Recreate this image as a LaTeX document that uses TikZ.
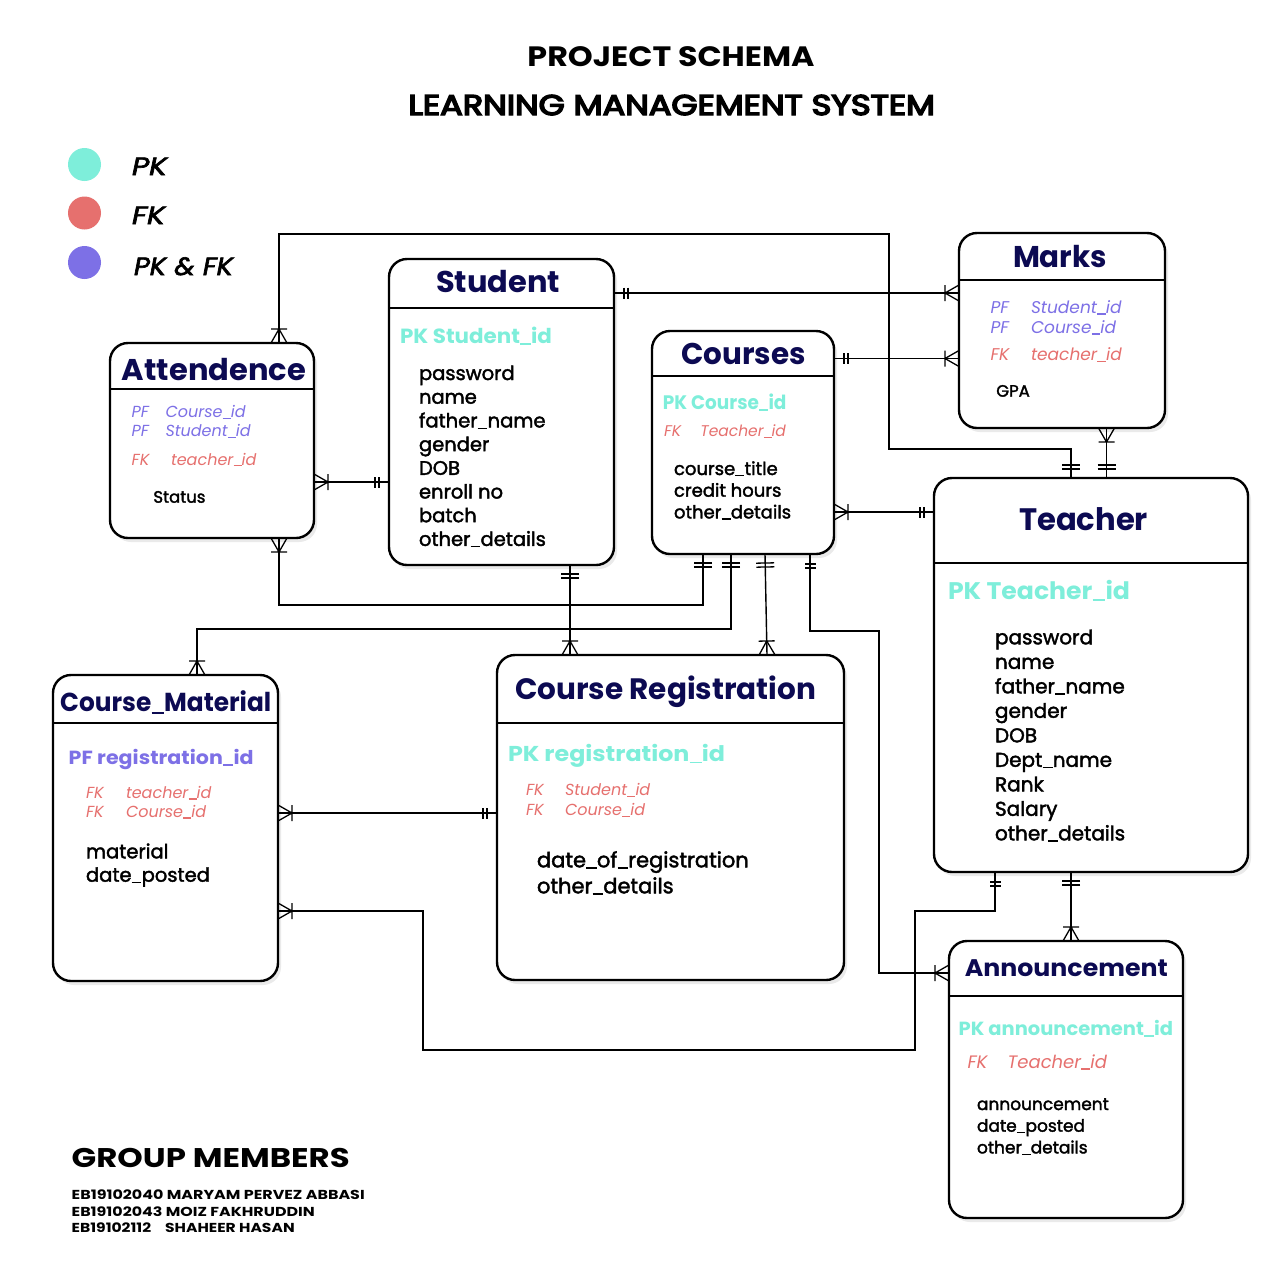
\documentclass[tikz,border=0pt]{standalone}
\usepackage{fontspec}
\setmainfont{Poppins}[UprightFeatures={FakeBold=2}]
\newfontfamily\popmed{Poppins}[FakeBold=5]
\newfontfamily\popit{Poppins Italic}[FakeBold=2.5]
\usepackage{graphicx}
\usetikzlibrary{shadows,arrows.meta}

\definecolor{navy}{RGB}{12,10,82}
\definecolor{pkc}{RGB}{126,238,218}
\definecolor{fkc}{RGB}{230,112,110}
\definecolor{pfc}{RGB}{125,112,230}

\newcommand\fw[2]{\resizebox{#1}{\height}{#2}}
\newcommand\fs[1]{\fontsize{#1}{#1}\selectfont}
\newcommand\us{\kern0.01em\rule[-0.08em]{0.5em}{0.075em}\kern0.01em}

\pgfdeclarearrow{
  name=ERone,
  setup code={
    \pgfarrowssettipend{0pt}
    \pgfarrowssetlineend{0pt}
    \pgfarrowssetbackend{-14pt}
    \pgfarrowshullpoint{0pt}{6pt}
    \pgfarrowshullpoint{0pt}{-6pt}
    \pgfarrowshullpoint{-14pt}{6pt}
    \pgfarrowshullpoint{-14pt}{-6pt}
  },
  drawing code={
    \pgfsetlinewidth{1.3pt}
    \pgfsetdash{}{0pt}
    \pgfsetbuttcap
    \pgfpathmoveto{\pgfqpoint{-10pt}{-5.5pt}}
    \pgfpathlineto{\pgfqpoint{-10pt}{5.5pt}}
    \pgfpathmoveto{\pgfqpoint{-14pt}{-5.5pt}}
    \pgfpathlineto{\pgfqpoint{-14pt}{5.5pt}}
    \pgfusepathqstroke
  }
}
\pgfdeclarearrow{
  name=ERoneW,
  setup code={
    \pgfarrowssettipend{0pt}
    \pgfarrowssetlineend{0pt}
    \pgfarrowssetbackend{-14pt}
    \pgfarrowshullpoint{0pt}{9pt}
    \pgfarrowshullpoint{0pt}{-9pt}
    \pgfarrowshullpoint{-14pt}{9pt}
    \pgfarrowshullpoint{-14pt}{-9pt}
  },
  drawing code={
    \pgfsetlinewidth{1.3pt}
    \pgfsetdash{}{0pt}
    \pgfsetbuttcap
    \pgfpathmoveto{\pgfqpoint{-9pt}{-9pt}}
    \pgfpathlineto{\pgfqpoint{-9pt}{9pt}}
    \pgfpathmoveto{\pgfqpoint{-13pt}{-9pt}}
    \pgfpathlineto{\pgfqpoint{-13pt}{9pt}}
    \pgfusepathqstroke
  }
}
\pgfdeclarearrow{
  name=ERmany,
  setup code={
    \pgfarrowssettipend{0pt}
    \pgfarrowssetlineend{0pt}
    \pgfarrowssetbackend{-15pt}
    \pgfarrowshullpoint{0pt}{8pt}
    \pgfarrowshullpoint{0pt}{-8pt}
    \pgfarrowshullpoint{-15pt}{8pt}
    \pgfarrowshullpoint{-15pt}{-8pt}
  },
  drawing code={
    \pgfsetlinewidth{1.3pt}
    \pgfsetdash{}{0pt}
    \pgfsetbuttcap
    \pgfsetmiterjoin
    \pgfpathmoveto{\pgfqpoint{-14pt}{-8pt}}
    \pgfpathlineto{\pgfqpoint{-14pt}{8pt}}
    \pgfpathmoveto{\pgfqpoint{0pt}{8pt}}
    \pgfpathlineto{\pgfqpoint{-14pt}{0pt}}
    \pgfpathlineto{\pgfqpoint{0pt}{-8pt}}
    \pgfusepathqstroke
  }
}

\tikzset{
  tbl/.style={draw=black, line width=2.4pt, rounded corners=18pt, fill=white,
    outer sep=0pt, inner sep=0pt,
    drop shadow={opacity=0.16, shadow xshift=3pt, shadow yshift=-4pt}},
  sepline/.style={line width=1.6pt},
  conn/.style={line width=1.4pt},
  txt/.style={anchor=base west, inner sep=0pt, outer sep=0pt},
  ttl/.style={anchor=base, inner sep=0pt, outer sep=0pt, text=navy},
  pk/.style={txt, text=pkc},
  fk/.style={txt, text=fkc},
  pf/.style={txt, text=pfc},
}

\begin{document}
\begin{tikzpicture}[x=1pt,y=-1pt]
\useasboundingbox (0,0) rectangle (1280,1275);
\fill[white] (0,0) rectangle (1280,1275);

% ---------- header ----------
\node[anchor=base, inner sep=0pt, font=\bfseries\fs{28}] (h1) at (671,66.7) {\fw{287pt}{PROJECT SCHEMA}};
\node[anchor=base, inner sep=0pt, font=\popmed\fs{28.5}] (h2) at (671.7,115) {\fw{526.5pt}{LEARNING MANAGEMENT SYSTEM}};

% ---------- legend ----------
\node[circle, fill=pkc, minimum size=33pt, inner sep=0pt] (lg1) at (84.5,164.5) {};
\node[circle, fill=fkc, minimum size=33pt, inner sep=0pt] (lg2) at (84.5,213) {};
\node[circle, fill=pfc, minimum size=33pt, inner sep=0pt] (lg3) at (84.5,262.5) {};
\node[txt, font=\popit\fs{25}] (lg1t) at (132,175) {\fw{35pt}{PK}};
\node[txt, font=\popit\fs{25}] (lg2t) at (132,224) {\fw{33pt}{FK}};
\node[txt, font=\popit\fs{25}] (lg3t) at (134,275) {\fw{99pt}{PK \& FK}};

% ---------- tables ----------
\node[tbl, minimum width=204pt, minimum height=195pt] (att) at (212,440.5) {};
\node[tbl, minimum width=225pt, minimum height=306pt] (stu) at (501.5,412) {};
\node[tbl, minimum width=182pt, minimum height=223pt] (crs) at (743,442.5) {};
\node[tbl, minimum width=206pt, minimum height=195pt] (mrk) at (1062,330.5) {};
\node[tbl, minimum width=314pt, minimum height=394pt] (tch) at (1091,675) {};
\node[tbl, minimum width=225pt, minimum height=306pt] (cm) at (165.5,828) {};
\node[tbl, minimum width=347pt, minimum height=325pt] (cr) at (670.5,817.5) {};
\node[tbl, minimum width=234pt, minimum height=277pt] (ann) at (1066,1079.5) {};

\draw[sepline] ([yshift=-46pt]att.north west) -- ([yshift=-46pt]att.north east);
\draw[sepline] ([yshift=-49pt]stu.north west) -- ([yshift=-49pt]stu.north east);
\draw[sepline] ([yshift=-45pt]crs.north west) -- ([yshift=-45pt]crs.north east);
\draw[sepline] ([yshift=-47pt]mrk.north west) -- ([yshift=-47pt]mrk.north east);
\draw[sepline] ([yshift=-85pt]tch.north west) -- ([yshift=-85pt]tch.north east);
\draw[sepline] ([yshift=-48pt]cm.north west) -- ([yshift=-48pt]cm.north east);
\draw[sepline] ([yshift=-68pt]cr.north west) -- ([yshift=-68pt]cr.north east);
\draw[sepline] ([yshift=-55pt]ann.north west) -- ([yshift=-55pt]ann.north east);

% ---------- connectors ----------
\draw[conn, arrows={ERone-ERmany}] ([yshift=119pt]stu.east) -- ([yshift=119pt]stu.east -| mrk.west);
\draw[conn, arrows={ERone-ERmany}] ([yshift=84pt]crs.east) -- ([yshift=84pt]crs.east -| mrk.west);
\draw[conn, arrows={ERmany-ERoneW}] ([xshift=67pt]att.north) -- ++(0,-109) -- ++(610,0) -- ++(0,215) -| ([xshift=-20pt]tch.north);
\draw[conn, arrows={ERmany-ERoneW}] ([xshift=44.5pt]mrk.south) -- ([xshift=15.5pt]tch.north);
\draw[conn, arrows={ERmany-ERone}] ([yshift=-41.5pt]att.east) -- ([yshift=-41.5pt]att.east -| stu.west);
\draw[conn, arrows={ERmany-ERone}] ([yshift=-69.5pt]crs.east) -- ([yshift=-69.5pt]crs.east -| tch.west);
\draw[conn, arrows={ERmany-ERoneW}] ([xshift=67pt]att.south) -- ++(0,67) -| ([xshift=-40pt]crs.south);
\draw[conn, arrows={ERmany-ERoneW}] ([xshift=31.5pt]cm.north) -- ++(0,-46) -| ([xshift=-12pt]crs.south);
\draw[conn, arrows={ERoneW-ERmany}] ([xshift=22pt]crs.south) -- ([xshift=96.5pt]cr.north);
\draw[conn, arrows={ERoneW-ERmany}] ([xshift=68.5pt]stu.south) -- ([xshift=-100.5pt]cr.north);
\draw[conn, arrows={ERone-ERmany}] ([xshift=67pt]crs.south) -- ++(0,77) -- ++(69,0) |- ([yshift=106.5pt]ann.west);
\draw[conn, line width=1.8pt, arrows={ERmany-ERone}] ([yshift=15pt]cm.east) -- ([yshift=15pt]cm.east -| cr.west);
\draw[conn, arrows={ERmany-ERone}] ([yshift=-83pt]cm.east) -- ++(145,0) -- ++(0,139) -- ++(492,0) -- ++(0,-139) -| ([xshift=-96pt]tch.south);
\draw[conn, arrows={ERoneW-ERmany}] ([xshift=-20pt]tch.south) -- ([xshift=5pt]ann.north);

% ---------- Attendence ----------
\node[ttl, font=\bfseries\fs{30}] (attT) at (214,380) {\fw{184pt}{Attendence}};
\node[pf, font=\itshape\fs{16}] (a1k) at (131.7,417.7) {PF};
\node[pf, font=\itshape\fs{16}] (a1v) at (165.5,417.7) {Course\us id};
\node[pf, font=\itshape\fs{16}] (a2k) at (131.7,436.7) {PF};
\node[pf, font=\itshape\fs{16}] (a2v) at (165.5,436.7) {Student\us id};
\node[fk, font=\itshape\fs{16}] (a3k) at (131.7,465) {FK};
\node[fk, font=\itshape\fs{16}] (a3v) at (171,465) {teacher\us id};
\node[txt, font=\fs{16.5}] (a4) at (153.4,502.7) {Status};

% ---------- Student ----------
\node[ttl, font=\bfseries\fs{30}] (stuT) at (498,292.7) {\fw{124pt}{Student}};
\node[pk, font=\bfseries\fs{20.5}] (stuP) at (400,343.3) {\fw{152pt}{PK Student\us id}};
\foreach \fld [count=\i from 0] in {password,name,father\us name,gender,DOB,enroll no,batch,other\us details}
  \node[txt, font=\fs{19.5}] (sf\i) at (419,{380+\i*23.7}) {\fld};

% ---------- Courses ----------
\node[ttl, font=\bfseries\fs{30}] (crsT) at (743.4,364) {\fw{124.5pt}{Courses}};
\node[pk, font=\bfseries\fs{19.5}] (crsP) at (662.9,409.3) {\fw{123.6pt}{PK Course\us id}};
\node[fk, font=\itshape\fs{15.5}] (c1k) at (664,436.7) {FK};
\node[fk, font=\itshape\fs{15.5}] (c1v) at (700.4,436.7) {Teacher\us id};
\foreach \fld [count=\i from 0] in {course\us title,credit hours,other\us details}
  \node[txt, font=\fs{18}] (cf\i) at (674,{475+\i*21.7}) {\fld};

% ---------- Marks ----------
\node[ttl, font=\bfseries\fs{30}] (mrkT) at (1060,267.7) {\fw{94pt}{Marks}};
\node[pf, font=\itshape\fs{17}] (m1k) at (990.6,313.3) {PF};
\node[pf, font=\itshape\fs{17}] (m1v) at (1031,313.3) {Student\us id};
\node[pf, font=\itshape\fs{17}] (m2k) at (990.6,333.3) {PF};
\node[pf, font=\itshape\fs{17}] (m2v) at (1031,333.3) {Course\us id};
\node[fk, font=\itshape\fs{17}] (m3k) at (990.6,360.7) {FK};
\node[fk, font=\itshape\fs{17}] (m3v) at (1031,360.7) {teacher\us id};
\node[txt, font=\fs{16.5}] (m4) at (996.3,396.7) {GPA};

% ---------- Teacher ----------
\node[ttl, font=\bfseries\fs{31}] (tchT) at (1083.5,530) {\fw{129pt}{Teacher}};
\node[pk, font=\bfseries\fs{24}] (tchP) at (948,599.3) {\fw{182pt}{PK Teacher\us id}};
\foreach \fld [count=\i from 0] in {password,name,father\us name,gender,DOB,Dept\us name,Rank,Salary,other\us details}
  \node[txt, font=\fs{20}] (tf\i) at (995,{644.3+\i*24.5}) {\fld};

% ---------- Course_Material ----------
\node[ttl, font=\bfseries\fs{26}] (cmT) at (165.7,711.7) {\fw{211pt}{Course\us Material}};
\node[pf, font=\bfseries\fs{19}] (cmP) at (68.7,764) {\fw{185pt}{PF registration\us id}};
\node[fk, font=\itshape\fs{16}] (k1k) at (86,798.3) {FK};
\node[fk, font=\itshape\fs{16}] (k1v) at (126,798.3) {teacher\us id};
\node[fk, font=\itshape\fs{16}] (k2k) at (86,817.3) {FK};
\node[fk, font=\itshape\fs{16}] (k2v) at (126,817.3) {Course\us id};
\node[txt, font=\fs{19.5}] (k3) at (86,858.3) {material};
\node[txt, font=\fs{19.5}] (k4) at (86,881.7) {date\us posted};

% ---------- Course Registration ----------
\node[ttl, font=\bfseries\fs{29.5}] (crT) at (665.6,699) {\fw{301pt}{Course Registration}};
\node[pk, font=\bfseries\fs{21.5}] (crP) at (508,761.7) {\fw{217pt}{PK registration\us id}};
\node[fk, font=\itshape\fs{16}] (r1k) at (526,795.7) {FK};
\node[fk, font=\itshape\fs{16}] (r1v) at (565,795.7) {Student\us id};
\node[fk, font=\itshape\fs{16}] (r2k) at (526,815.7) {FK};
\node[fk, font=\itshape\fs{16}] (r2v) at (565,815.7) {Course\us id};
\node[txt, font=\fs{21}] (r3) at (537,867.3) {date\us of\us registration};
\node[txt, font=\fs{21}] (r4) at (537,893.3) {other\us details};

% ---------- Announcement ----------
\node[ttl, font=\bfseries\fs{24}] (annT) at (1066.3,976) {\fw{203pt}{Announcement}};
\node[pk, font=\bfseries\fs{19}] (annP) at (958.6,1035) {\fw{214.5pt}{PK announcement\us id}};
\node[fk, font=\itshape\fs{18}] (n1k) at (967.5,1068.3) {FK};
\node[fk, font=\itshape\fs{18}] (n1v) at (1007.7,1068.3) {Teacher\us id};
\foreach \fld [count=\i from 0] in {announcement,date\us posted,other\us details}
  \node[txt, font=\fs{17}] (nf\i) at (977,{1110+\i*21.7}) {\fld};

% ---------- group members ----------
\node[txt, font=\bfseries\fs{27}] (g0) at (71.7,1167.3) {\fw{278pt}{GROUP MEMBERS}};
\node[txt, font=\bfseries\fs{13}] (g1) at (71.7,1199) {\fw{293pt}{EB19102040 MARYAM PERVEZ ABBASI}};
\node[txt, font=\bfseries\fs{13}] (g2) at (71.7,1216) {\fw{243pt}{EB19102043 MOIZ FAKHRUDDIN}};
\node[txt, font=\bfseries\fs{13}] (g3) at (71.7,1232.5) {\fw{223pt}{EB19102112\hspace{0.9em}SHAHEER HASAN}};
\end{tikzpicture}
\end{document}
